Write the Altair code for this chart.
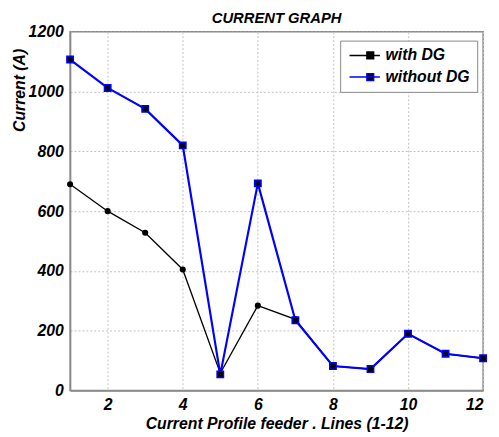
import altair as alt
import pandas as pd

# ---- data ----
lines = list(range(1, 13))
with_dg = [690, 600, 528, 405, 58, 284, 238, 82, 72, 190, 123, 108]
without_dg = [1107, 1012, 942, 820, 54, 693, 235, 82, 72, 190, 123, 108]
series = ["with DG", "without DG"]
colors = ["#000000", "#0000ff"]
x_ticks = [2, 4, 6, 8, 10, 12]
y_ticks = [0, 200, 400, 600, 800, 1000, 1200]

df = pd.DataFrame({
    "line": lines * 2,
    "current": with_dg + without_dg,
    "series": [series[0]] * len(lines) + [series[1]] * len(lines),
})
df["marker"] = df["series"]

FONT = "Liberation Sans"

x = alt.X(
    "line:Q",
    scale=alt.Scale(domain=[1, 12], nice=False, zero=False),
    axis=alt.Axis(
        values=x_ticks,
        title="Current Profile feeder . Lines (1-12)",
        labelPadding=6,
        titlePadding=3,
    ),
)
y = alt.Y(
    "current:Q",
    scale=alt.Scale(domain=[0, 1200], nice=False),
    axis=alt.Axis(
        values=y_ticks,
        format="d",
        title="Current (A)",
        labelPadding=7,
        titleX=-51,
        titleY=59,
        titleAlign="center",
        titleBaseline="middle",
    ),
)

# data-driven domains (sorted: "with DG", "without DG") for the styling scales
line_layer = alt.Chart(df).mark_line().encode(
    x=x,
    y=y,
    color=alt.Color("marker:N", scale=alt.Scale(range=colors), legend=None),
    strokeWidth=alt.StrokeWidth("marker:N", scale=alt.Scale(range=[1.3, 2.2]), legend=None),
)

legend_symbol = "M-1,0H4.6M2.2,-0.64H3.44V0.64H2.2Z"

point_layer = alt.Chart(df).mark_point(filled=True, strokeWidth=1.5, opacity=1).encode(
    x=x,
    y=y,
    shape=alt.Shape("marker:N", scale=alt.Scale(range=["circle", "square"]), legend=None),
    size=alt.Size("marker:N", scale=alt.Scale(range=[22, 42]), legend=None),
    fill=alt.value("black"),
    stroke=alt.Stroke(
        "series:N",
        scale=alt.Scale(domain=series, range=colors),
        legend=alt.Legend(
            title=None,
            orient="none",
            legendX=274,
            legendY=9,
            padding=7,
            rowPadding=6,
            fillColor="white",
            strokeColor="#888888",
            symbolType=legend_symbol,
            symbolSize=121,
            symbolStrokeWidth=1.5,
            labelOffset=23,
            labelFont=FONT,
            labelFontSize=16,
            labelFontStyle="italic",
            labelFontWeight="bold",
            labelColor="black",
        ),
    ),
)

chart = (
    alt.layer(line_layer, point_layer)
    .properties(
        width=419,
        height=364,
        title=alt.TitleParams(
            "CURRENT GRAPH",
            font=FONT,
            fontSize=15,
            fontStyle="italic",
            fontWeight="bold",
            color="black",
            offset=6,
            dy=8,
            frame="group",
        ),
        autosize=alt.AutoSizeParams(type="none"),
        padding={"left": 63, "top": 21, "right": 8, "bottom": 42},
    )
    .configure_view(stroke="#888888", strokeWidth=1.5)
    .configure_axis(
        labelFont=FONT,
        labelFontSize=16,
        labelFontStyle="italic",
        labelFontWeight="bold",
        labelColor="black",
        titleFont=FONT,
        titleFontSize=16,
        titleFontStyle="italic",
        titleFontWeight="bold",
        titleColor="black",
        ticks=False,
        domainColor="#888888",
        domainWidth=1.5,
        gridColor="#c0c0c0",
        gridDash=[2, 2],
        gridWidth=1,
    )
)

chart.save("out.html", embed_options={"renderer": "svg", "actions": False})
